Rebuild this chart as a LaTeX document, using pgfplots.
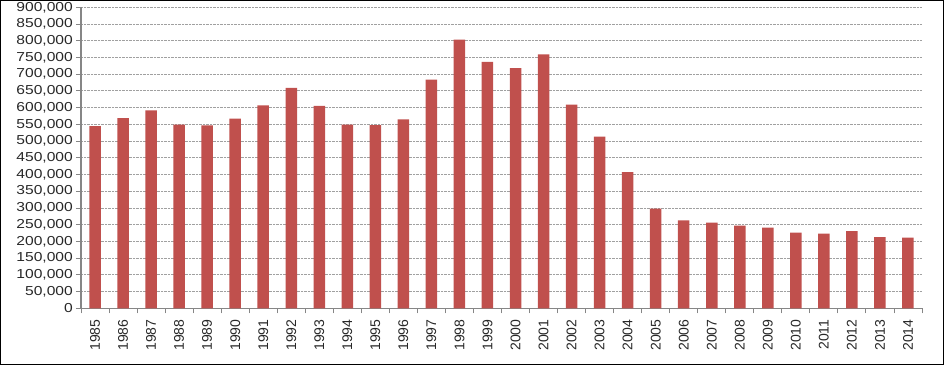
\documentclass[border=0pt]{standalone}
\usepackage{pgfplots}
\pgfplotsset{compat=1.18}
\usepackage{fontspec}
\setmainfont{Liberation Sans}
\newfontfamily\yfont[FakeStretch=1.2]{Liberation Sans}
\definecolor{barred}{RGB}{192,80,77}
\definecolor{axgray}{RGB}{134,134,134}
\definecolor{gridgray}{RGB}{160,160,160}
\definecolor{labgray}{RGB}{40,40,40}
\begin{document}
\begin{tikzpicture}[x=1pt,y=1pt]
\draw[black, line width=1.3pt] (0.65,0.65) rectangle (943.35,364.35);
\begin{axis}[
  at={(81pt,56.7pt)}, anchor=south west,
  scale only axis, width=841pt, height=301pt,
  xmin=-0.5, xmax=29.5, ymin=0, ymax=900000,
  axis x line*=bottom, axis y line*=left,
  x axis line style={-, axgray, line width=1.3pt},
  y axis line style={-, axgray, line width=2.4pt},
  xtick={0,...,29},
  xticklabels={1985,1986,1987,1988,1989,1990,1991,1992,1993,1994,1995,1996,1997,1998,1999,2000,2001,2002,2003,2004,2005,2006,2007,2008,2009,2010,2011,2012,2013,2014},
  minor xtick={-0.5,0.5,...,29.5},
  major x tick style={draw=none},
  minor x tick style={axgray, line width=0.9pt},
  minor tick length=5pt,
  tick align=outside,
  xticklabel style={yshift=-6pt, rotate=90, anchor=east, font=\fontsize{14}{14}\selectfont, text=labgray, inner sep=0pt},
  ytick={0,50000,...,900000},
  yticklabels={0,{50,000},{100,000},{150,000},{200,000},{250,000},{300,000},{350,000},{400,000},{450,000},{500,000},{550,000},{600,000},{650,000},{700,000},{750,000},{800,000},{850,000},{900,000}},
  major y tick style={axgray, line width=0.9pt},
  major tick length=5pt,
  yticklabel style={font=\yfont\fontsize{13}{13}\selectfont, text=labgray, inner sep=0pt, xshift=-3pt},
  ymajorgrids,
  grid style={gridgray, densely dotted, line width=0.9pt},
  scaled y ticks=false,
  clip=false,
]
\addplot[ybar, bar width=11.5pt, fill=barred, draw=none] coordinates {
(0,545000) (1,569000) (2,592000) (3,549000) (4,547000) (5,567000)
(6,607000) (7,659000) (8,605000) (9,549000) (10,548000) (11,565000)
(12,684000) (13,803000) (14,737000) (15,718000) (16,759000) (17,609000)
(18,513000) (19,407000) (20,298000) (21,263000) (22,256000) (23,247000)
(24,241000) (25,226000) (26,223000) (27,231000) (28,213000) (29,211000)
};
\end{axis}
\end{tikzpicture}
\end{document}
